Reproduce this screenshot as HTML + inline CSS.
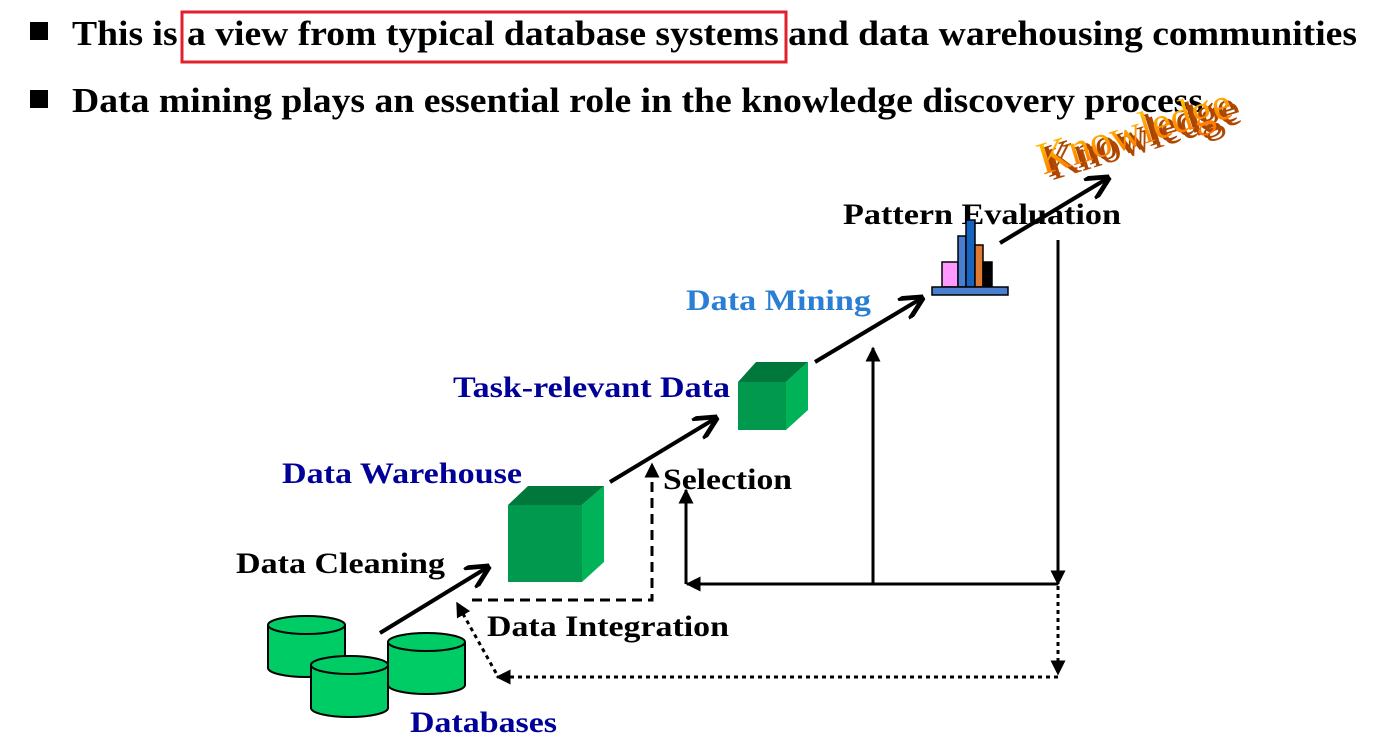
<!DOCTYPE html><html><head><style>body{margin:0;background:#fff}svg{display:block}text{font-family:"Liberation Serif",serif;font-weight:bold}</style></head><body>
<svg width="1379" height="747" viewBox="0 0 1379 747">
<defs>
<marker id="a" viewBox="0 0 10 10" refX="9" refY="5" markerWidth="6" markerHeight="6" orient="auto"><path d="M0,0L10,5L0,10" fill="none" stroke="#000" stroke-width="2"/></marker>
<marker id="b" viewBox="0 0 10 10" refX="9" refY="5" markerWidth="5" markerHeight="5" orient="auto"><path d="M0,0L10,5L0,10z" fill="#000"/></marker>
<linearGradient id="kg" x1="0" y1="0" x2="0" y2="1"><stop offset="0" stop-color="#ffd000"/><stop offset="1" stop-color="#ff6a00"/></linearGradient>
</defs>
<rect x="30" y="22" width="18" height="18"/>
<text x="72" y="45" font-size="35" textLength="1285" lengthAdjust="spacingAndGlyphs">This is a view from typical database systems and data warehousing communities</text>
<rect x="182" y="12" width="604" height="50" fill="none" stroke="#e0202a" stroke-width="3"/>
<rect x="30" y="90" width="18" height="18"/>
<text x="72" y="112" font-size="35" textLength="1131" lengthAdjust="spacingAndGlyphs">Data mining plays an essential role in the knowledge discovery process</text>
<!-- knowledge -->
<g transform="rotate(-17 1045 170)">
<text x="1046" y="178" font-size="46" fill="#a84300" textLength="200" lengthAdjust="spacingAndGlyphs" style="font-weight:normal">Knowledge</text>
<text x="1049" y="182" font-size="46" fill="#b04800" textLength="200" lengthAdjust="spacingAndGlyphs" style="font-weight:normal">Knowledge</text>
<text x="1042" y="174" font-size="46" fill="url(#kg)" textLength="200" lengthAdjust="spacingAndGlyphs" style="font-weight:normal">Knowledge</text></g>
<!-- labels -->
<text x="843" y="224" font-size="30" textLength="278" lengthAdjust="spacingAndGlyphs">Pattern Evaluation</text>
<text x="686" y="310" font-size="30" fill="#2a7fd4" textLength="185" lengthAdjust="spacingAndGlyphs">Data Mining</text>
<text x="453" y="397" font-size="30" fill="#000099" textLength="277" lengthAdjust="spacingAndGlyphs">Task-relevant Data</text>
<text x="282" y="483" font-size="30" fill="#000099" textLength="240" lengthAdjust="spacingAndGlyphs">Data Warehouse</text>
<text x="663" y="489" font-size="30" textLength="129" lengthAdjust="spacingAndGlyphs">Selection</text>
<text x="236" y="573" font-size="30" textLength="209" lengthAdjust="spacingAndGlyphs">Data Cleaning</text>
<text x="487" y="636" font-size="30" textLength="242" lengthAdjust="spacingAndGlyphs">Data Integration</text>
<text x="410" y="732" font-size="30" fill="#000099" textLength="147" lengthAdjust="spacingAndGlyphs">Databases</text>
<!-- histogram -->
<g stroke="#000" stroke-width="1.5">
<rect x="942" y="262" width="16" height="25" fill="#ff99ff"/>
<rect x="958" y="236" width="8" height="51" fill="#4a7fd0"/>
<rect x="966" y="220" width="9" height="67" fill="#1565c0"/>
<rect x="975" y="245" width="8" height="42" fill="#e07a30"/>
<rect x="983" y="262" width="9" height="25" fill="#000"/>
<rect x="932" y="287" width="76" height="8" fill="#4a7fd0"/>
</g>
<!-- cubes -->
<polygon points="508,505 528,486 604,486 582,505" fill="#00783c"/>
<rect x="508" y="505" width="74" height="77" fill="#00994d"/>
<polygon points="582,505 604,486 604,562 582,582" fill="#00b359"/>
<polygon points="738,382 756,362 808,362 786,382" fill="#00783c"/>
<rect x="738" y="382" width="48" height="48" fill="#00994d"/>
<polygon points="786,382 808,362 808,410 786,430" fill="#00b359"/>
<!-- databases -->
<g fill="#00cc66" stroke="#000" stroke-width="2">
<path d="M268,625 v43 a38.5,9 0 0 0 77,0 v-43"/><ellipse cx="306.5" cy="625" rx="38.5" ry="9"/>
<path d="M388,642 v43 a38.5,9 0 0 0 77,0 v-43"/><ellipse cx="426.5" cy="642" rx="38.5" ry="9"/>
<path d="M311,665 v43 a38.5,9 0 0 0 77,0 v-43"/><ellipse cx="349.5" cy="665" rx="38.5" ry="9"/>
</g>
<!-- arrows -->
<g stroke="#000" stroke-width="4" fill="none" marker-end="url(#a)">
<line x1="380" y1="633" x2="488" y2="567"/>
<line x1="610" y1="482" x2="716" y2="418"/>
<line x1="815" y1="362" x2="922" y2="298"/>
<line x1="1000" y1="243" x2="1108" y2="178"/>
</g>
<g stroke="#000" stroke-width="3" fill="none">
<line x1="1058" y1="240" x2="1058" y2="584" marker-end="url(#b)"/>
<line x1="1058" y1="584" x2="687" y2="584" marker-end="url(#b)"/>
<line x1="686" y1="584" x2="686" y2="490" marker-end="url(#b)"/>
<line x1="873" y1="584" x2="873" y2="348" marker-end="url(#b)"/>
<polyline points="472,600 652,600 652,464" stroke-dasharray="10,6" marker-end="url(#b)"/>
<line x1="1058" y1="586" x2="1058" y2="674" stroke-dasharray="4,4" marker-end="url(#b)"/>
<line x1="1058" y1="677" x2="497" y2="677" stroke-dasharray="4,4" marker-end="url(#b)"/>
<line x1="496" y1="673" x2="457" y2="603" stroke-dasharray="4,4" marker-end="url(#b)"/>
</g>
</svg></body></html>
